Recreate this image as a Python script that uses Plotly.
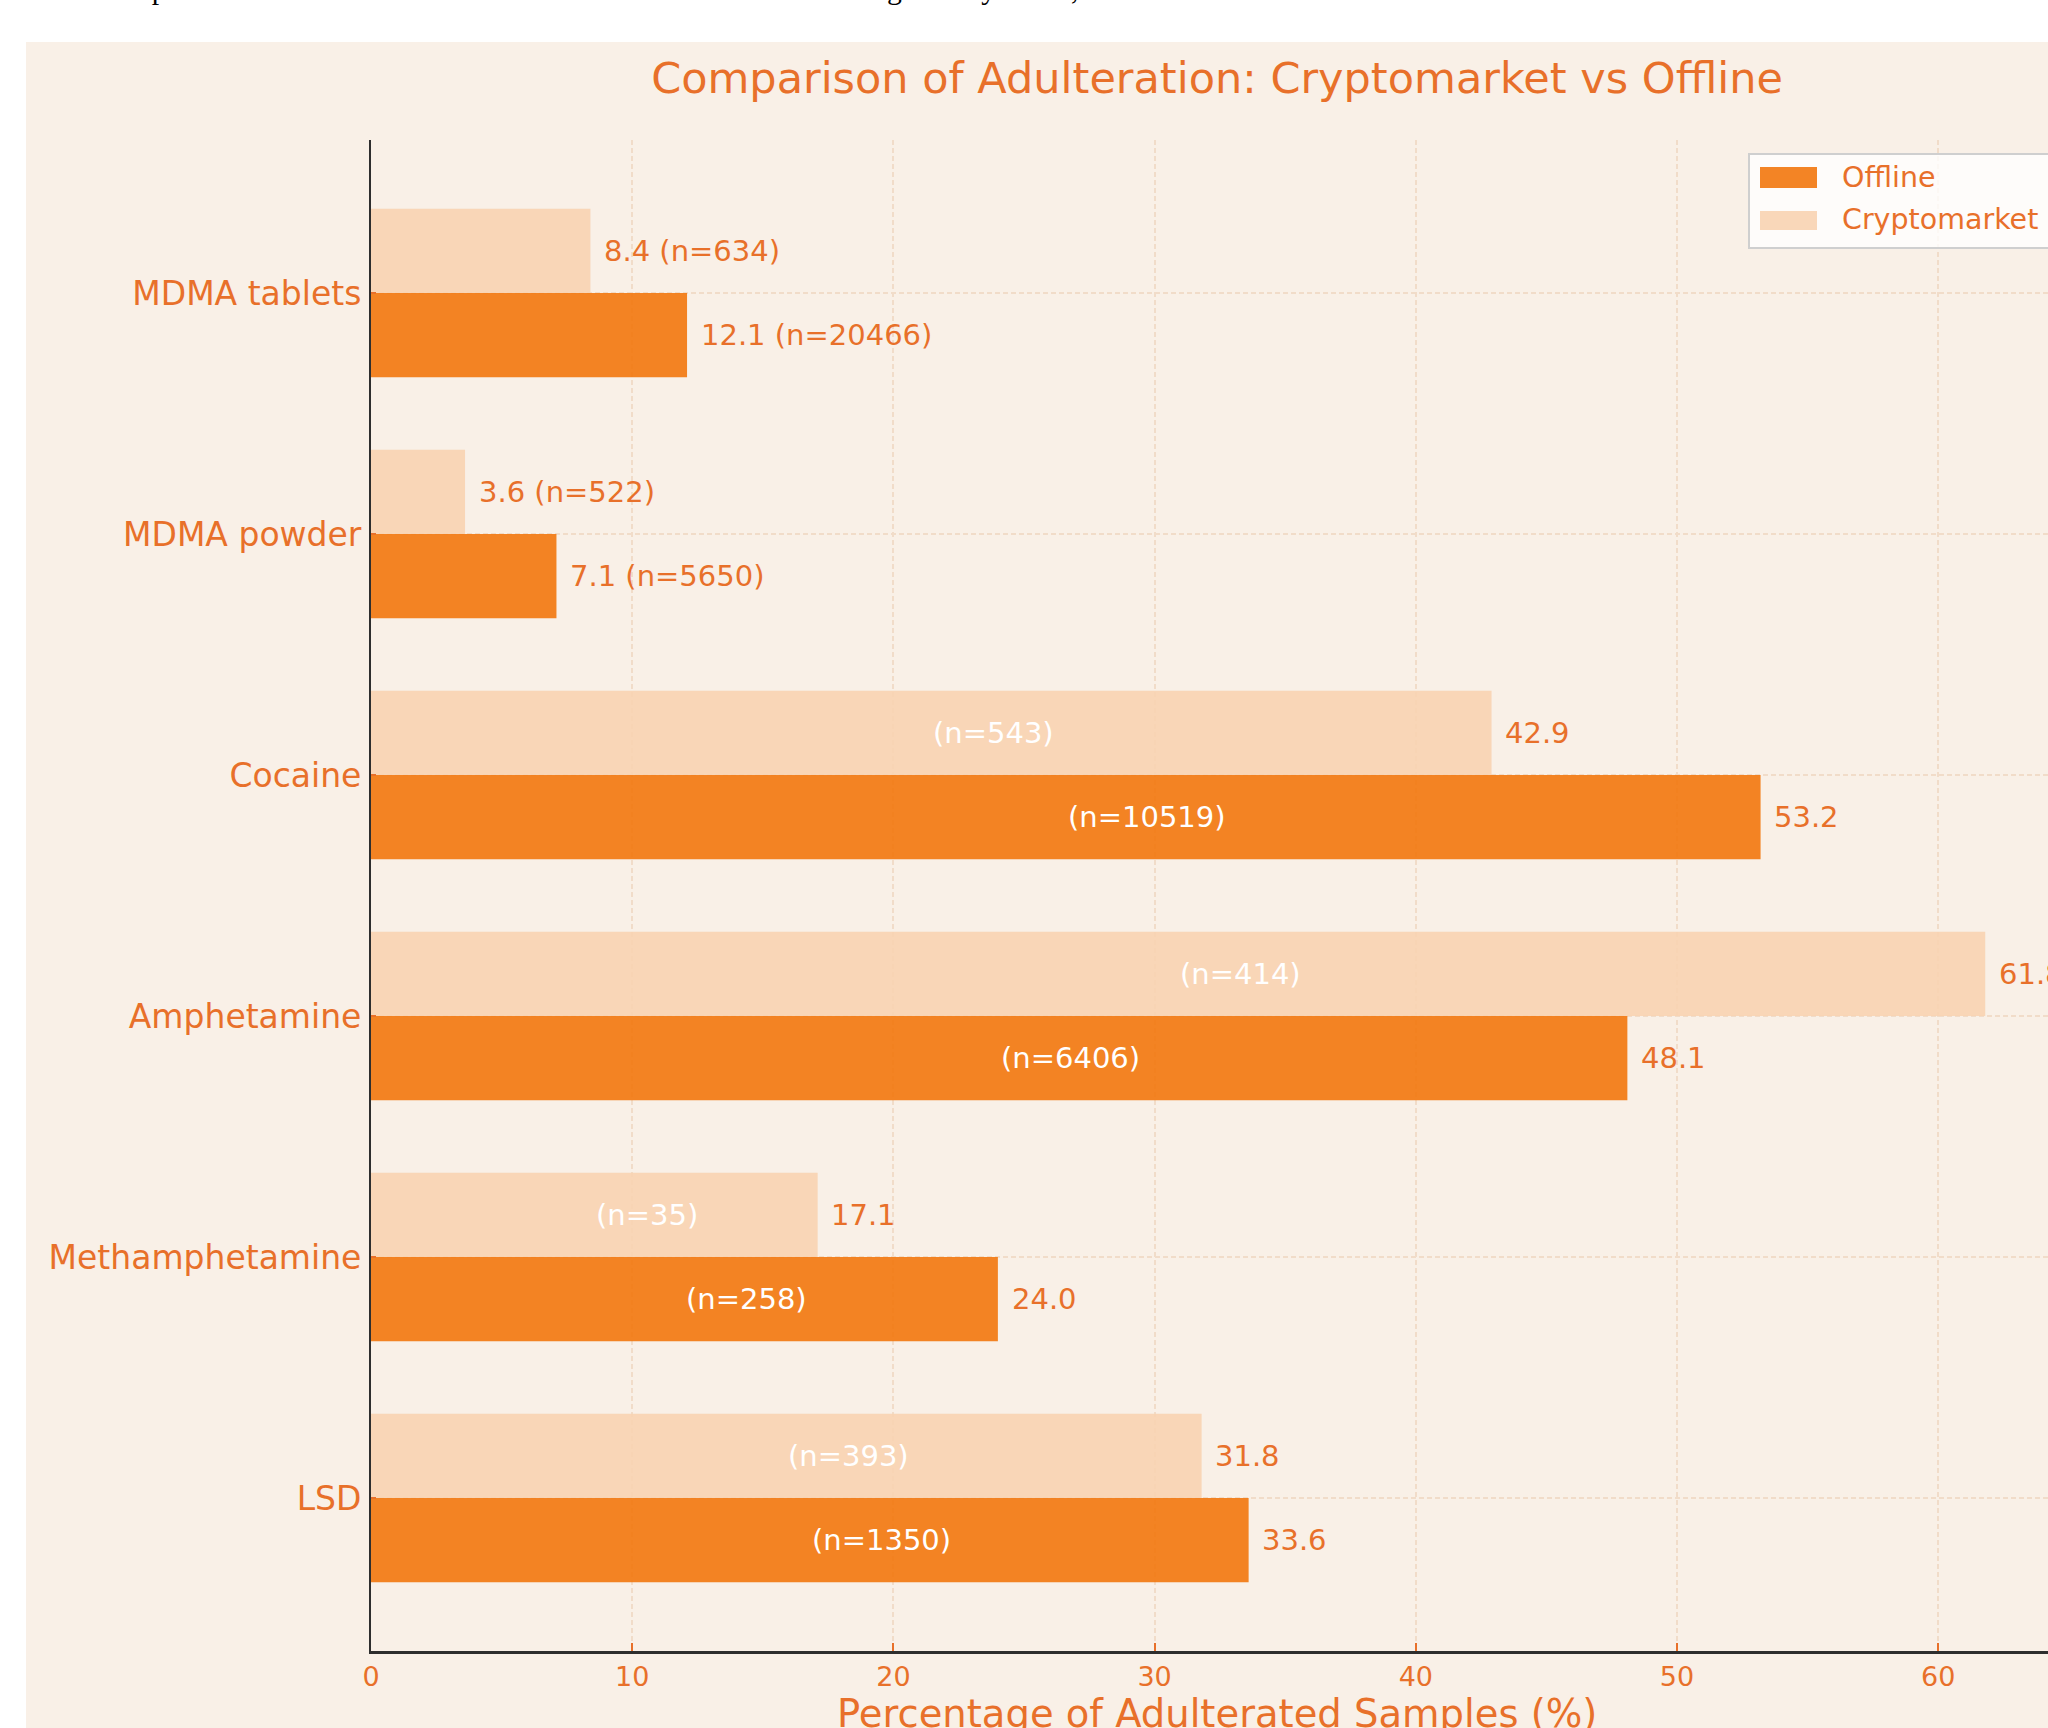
import plotly.graph_objects as go

# ---------------- data ----------------
drugs = ["LSD", "Methamphetamine", "Amphetamine", "Cocaine", "MDMA powder", "MDMA tablets"]
offline_pct = [33.6, 24.0, 48.1, 53.2, 7.1, 12.1]
offline_n = [1350, 258, 6406, 10519, 5650, 20466]
crypto_pct = [31.8, 17.1, 61.8, 42.9, 3.6, 8.4]
crypto_n = [393, 35, 414, 543, 522, 634]
series_names = ["Offline", "Cryptomarket"]
x_ticks = [0, 10, 20, 30, 40, 50, 60, 70]
x_title = "Percentage of Adulterated Samples (%)"

# ---------------- style ----------------
W, H = 2048, 1728
L, R, T, B = 371, 0, 140, 77
PW, PH = W - L - R, H - T - B
BG = "#F9F0E7"
ORANGE_TXT = "#E8702A"
OFF_COL = "rgba(242,119,13,0.9)"
CRY_COL = "rgba(248,211,177,0.9)"
FONT = "DejaVu Sans"
BAR_H = 0.35
X_MAX = PW / 26.12
LBL_SIZE = 29


def px_x(x):
    return (x - L) / PW


def px_y(y):
    return (H - B - y) / PH


ypos = list(range(len(drugs)))

fig = go.Figure()
fig.add_trace(go.Bar(
    y=ypos, x=offline_pct, orientation="h", name=series_names[0],
    width=BAR_H, offset=-BAR_H, marker=dict(color=OFF_COL, line=dict(width=0)),
    showlegend=False, hoverinfo="x+name"))
fig.add_trace(go.Bar(
    y=ypos, x=crypto_pct, orientation="h", name=series_names[1],
    width=BAR_H, offset=0, marker=dict(color=CRY_COL, line=dict(width=0)),
    showlegend=False, hoverinfo="x+name"))

annotations = []
for series, (vals, ns, dy) in enumerate([(offline_pct, offline_n, -BAR_H / 2),
                                         (crypto_pct, crypto_n, BAR_H / 2)]):
    for i, (v, n) in enumerate(zip(vals, ns)):
        yy = i + dy
        if v > 15:
            annotations.append(dict(x=v / 2, y=yy, xref="x", yref="y", text=f"(n={n})",
                                    showarrow=False, xanchor="left", yanchor="middle",
                                    font=dict(family=FONT, size=LBL_SIZE, color="white")))
            annotations.append(dict(x=v + 0.45, y=yy, xref="x", yref="y", text=f"{v:.1f}",
                                    showarrow=False, xanchor="left", yanchor="middle",
                                    font=dict(family=FONT, size=LBL_SIZE, color=ORANGE_TXT)))
        else:
            annotations.append(dict(x=v + 0.45, y=yy, xref="x", yref="y", text=f"{v:.1f} (n={n})",
                                    showarrow=False, xanchor="left", yanchor="middle",
                                    font=dict(family=FONT, size=LBL_SIZE, color=ORANGE_TXT)))

# manual legend (matplotlib-like wide swatches)
leg_items = [(series_names[0], OFF_COL, 167, 188, 177), (series_names[1], CRY_COL, 211, 230, 220)]
shapes = [
    # white page strips outside the beige figure panel
    dict(type="rect", xref="paper", yref="paper", x0=px_x(0), x1=px_x(26), y0=px_y(H), y1=px_y(0),
         fillcolor="white", line=dict(width=0), layer="above"),
    dict(type="rect", xref="paper", yref="paper", x0=px_x(0), x1=px_x(W), y0=px_y(42), y1=px_y(0),
         fillcolor="white", line=dict(width=0), layer="above"),
    # legend frame
    dict(type="rect", xref="paper", yref="paper", x0=px_x(1749), x1=px_x(2070), y0=px_y(248), y1=px_y(154),
         fillcolor="rgba(255,255,255,0.8)", line=dict(color="#CFCFCF", width=2), layer="above"),
]
for name, col, y0, y1, yc in leg_items:
    shapes.append(dict(type="rect", xref="paper", yref="paper", x0=px_x(1760), x1=px_x(1817),
                       y0=px_y(y1), y1=px_y(y0), fillcolor=col, line=dict(width=0), layer="above"))
    annotations.append(dict(x=px_x(1840), y=px_y(yc), xref="paper", yref="paper", text=name,
                            showarrow=False, xanchor="left", yanchor="middle",
                            font=dict(family=FONT, size=28.5, color=ORANGE_TXT)))

# x-axis title, centred on the (wider, cropped) matplotlib axes
annotations.append(dict(x=px_x(1217), y=px_y(1689), xref="paper", yref="paper", text=x_title,
                        showarrow=False, xanchor="center", yanchor="top",
                        font=dict(family=FONT, size=38.5, color=ORANGE_TXT)))

# clipped line of the surrounding document text (only descenders visible)
annotations.append(dict(x=px_x(92), y=px_y(7), xref="paper", yref="paper",
                        text="Comparison of adulteration rates across the six main classes of drug sold by outlet,",
                        showarrow=False, xanchor="left", yanchor="bottom",
                        font=dict(family="Liberation Serif", size=29.7, color="black")))

fig.update_layout(
    width=W, height=H,
    margin=dict(l=L, r=R, t=T, b=B, pad=0, autoexpand=False),
    paper_bgcolor=BG, plot_bgcolor=BG,
    barmode="overlay",
    title=dict(text="Comparison of Adulteration: Cryptomarket vs Offline",
               x=1217 / W, xanchor="center", y=1 - 78 / H, yanchor="middle",
               font=dict(family=FONT, size=43, color=ORANGE_TXT)),
    xaxis=dict(range=[0, X_MAX], tickvals=x_ticks, ticktext=[str(t) for t in x_ticks],
               ticks="inside", ticklen=8, tickwidth=1.5, tickcolor=ORANGE_TXT,
               tickfont=dict(family=FONT, size=27, color=ORANGE_TXT),
               showline=True, linecolor="#2E2E2E", linewidth=2.5, zeroline=False,
               showgrid=True, gridcolor="#F1DCC9", gridwidth=1.5, griddash="5px,3px"),
    yaxis=dict(range=[-0.635, len(drugs) - 1 + 0.635], tickvals=ypos, ticktext=drugs,
               ticks="inside", ticklen=5, tickwidth=1.5, tickcolor=ORANGE_TXT,
               tickfont=dict(family=FONT, size=33, color=ORANGE_TXT), ticklabelstandoff=1,
               showline=True, linecolor="#2E2E2E", linewidth=2, zeroline=False,
               showgrid=True, gridcolor="#F1DCC9", gridwidth=1.5, griddash="5px,3px"),
    annotations=annotations,
    shapes=shapes,
)

fig.write_html("out.html")
